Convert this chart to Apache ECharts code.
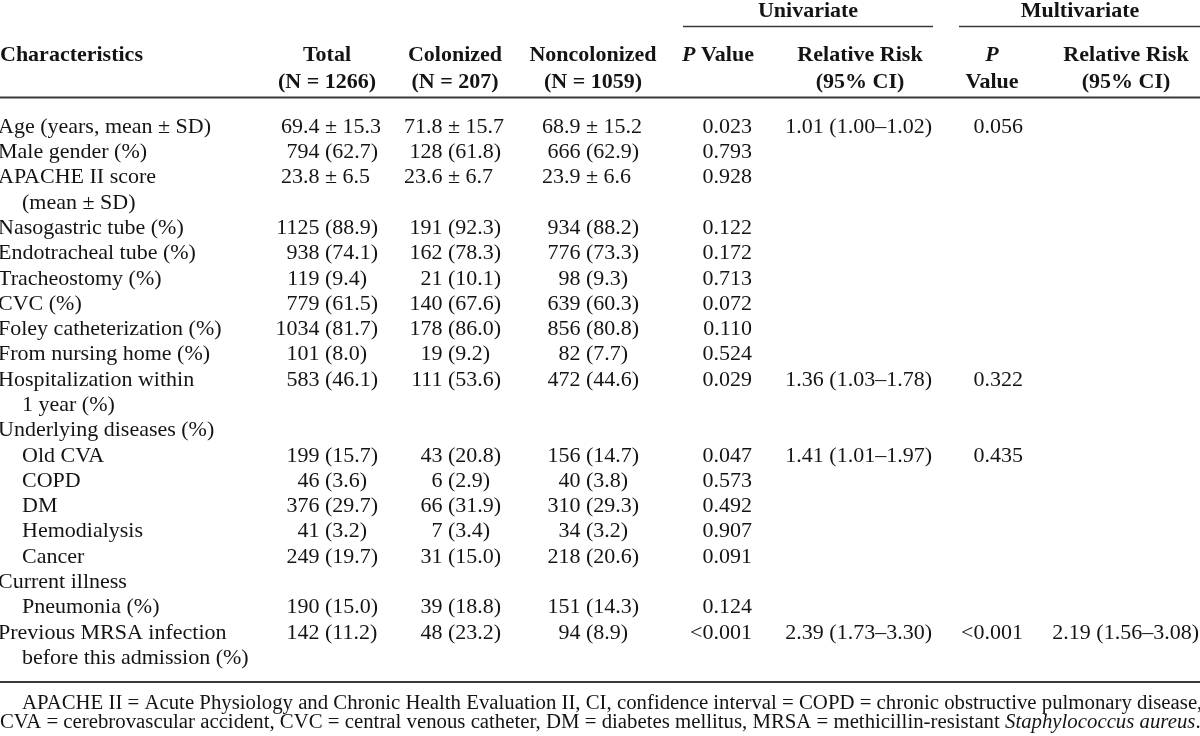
<!DOCTYPE html>
<html>
<head>
<meta charset="utf-8">
<script src="https://cdn.jsdelivr.net/npm/echarts@6/dist/echarts.min.js"></script>
<style>html,body{margin:0;padding:0;background:#fff;}#c{width:1200px;height:736px;}</style>
</head>
<body>
<div id="c"></div>
<script>
// ---------- DATA ----------
const rowLabels = ["Age (years, mean ± SD)", "Male gender (%)", "APACHE II score", "(mean ± SD)",
  "Nasogastric tube (%)", "Endotracheal tube (%)", "Tracheostomy (%)", "CVC (%)",
  "Foley catheterization (%)", "From nursing home (%)", "Hospitalization within", "1 year (%)",
  "Underlying diseases (%)", "Old CVA", "COPD", "DM", "Hemodialysis", "Cancer",
  "Current illness", "Pneumonia (%)", "Previous MRSA infection", "before this admission (%)"];
const rowIndent = [0,0,0,1, 0,0,0,0, 0,0,0,1, 0,1,1,1,1,1, 0,1, 0,1];
const totalCol = ["69.4 ± 15.3","794 (62.7)","23.8 ± 6.5","","1125 (88.9)","938 (74.1)","119 (9.4)","779 (61.5)",
  "1034 (81.7)","101 (8.0)","583 (46.1)","","","199 (15.7)","46 (3.6)","376 (29.7)","41 (3.2)","249 (19.7)",
  "","190 (15.0)","142 (11.2)",""];
const colonizedCol = ["71.8 ± 15.7","128 (61.8)","23.6 ± 6.7","","191 (92.3)","162 (78.3)","21 (10.1)","140 (67.6)",
  "178 (86.0)","19 (9.2)","111 (53.6)","","","43 (20.8)","6 (2.9)","66 (31.9)","7 (3.4)","31 (15.0)",
  "","39 (18.8)","48 (23.2)",""];
const noncolonizedCol = ["68.9 ± 15.2","666 (62.9)","23.9 ± 6.6","","934 (88.2)","776 (73.3)","98 (9.3)","639 (60.3)",
  "856 (80.8)","82 (7.7)","472 (44.6)","","","156 (14.7)","40 (3.8)","310 (29.3)","34 (3.2)","218 (20.6)",
  "","151 (14.3)","94 (8.9)",""];
const uniP = ["0.023","0.793","0.928","","0.122","0.172","0.713","0.072","0.110","0.524","0.029","","",
  "0.047","0.573","0.492","0.907","0.091","","0.124","<0.001",""];
const uniRR = ["1.01 (1.00–1.02)","","","","","","","","","","1.36 (1.03–1.78)","","",
  "1.41 (1.01–1.97)","","","","","","","2.39 (1.73–3.30)",""];
const multiP = ["0.056","","","","","","","","","","0.322","","","0.435","","","","","","","<0.001",""];
const multiRR = ["","","","","","","","","","","","","","","","","","","","","2.19 (1.56–3.08)",""];

const groupHeaders = ["Univariate", "Multivariate"];
const headerLine1 = ["Characteristics", "Total", "Colonized", "Noncolonized", "{i|P} Value", "Relative Risk", "{i|P}", "Relative Risk"];
const headerLine2 = ["", "(N = 1266)", "(N = 207)", "(N = 1059)", "", "(95% CI)", "Value", "(95% CI)"];
const footnote1 = "APACHE II = Acute Physiology and Chronic Health Evaluation II, CI, confidence interval = COPD = chronic obstructive pulmonary disease,";
const footnote2 = "CVA = cerebrovascular accident, CVC = central venous catheter, DM = diabetes mellitus, MRSA = methicillin-resistant {i|Staphylococcus aureus}.";

// ---------- LAYOUT ----------
const FONT = '"Liberation Serif", "Times New Roman", serif';
const FS = 22;
const INK = '#141414';
const RULE = '#3a3a3a';
const columns = [
  { values: totalCol, x: 325, mode: 'split' },
  { values: colonizedCol, x: 448, mode: 'split' },
  { values: noncolonizedCol, x: 586, mode: 'split' },
  { values: uniP, x: 752, mode: 'right' },
  { values: uniRR, x: 932, mode: 'right' },
  { values: multiP, x: 1023, mode: 'right' },
  { values: multiRR, x: 1199, mode: 'right' }
];
const headerX = [0, 327, 455, 593, 718, 860, 992, 1126];
const groupX = [808, 1080];
const groupRules = [[683, 933], [959, 1200]];

function textStyle(extra) {
  return Object.assign({ fontFamily: FONT, fontSize: FS, fill: INK, verticalAlign: 'middle' }, extra);
}

const series = columns.map(col => {
  const texts = [], data = [];
  col.values.forEach((t, i) => { if (t) { texts.push(t); data.push([col.x, i]); } });
  return {
    type: 'custom', coordinateSystem: 'cartesian2d', silent: true, animation: false,
    encode: { x: 0, y: 1 }, data,
    renderItem: (params, api) => {
      const p = api.coord([api.value(0), api.value(1)]);
      const t = texts[params.dataIndex];
      if (col.mode === 'split') {
        let k = t.indexOf(' (');
        if (k < 0) k = t.indexOf(' ± ');
        const left = t.slice(0, k), right = t.slice(k + 1);
        return { type: 'group', children: [
          { type: 'text', x: p[0] - 5.5, y: p[1], style: textStyle({ text: left, align: 'right' }) },
          { type: 'text', x: p[0], y: p[1], style: textStyle({ text: right, align: 'left' }) }
        ]};
      }
      return { type: 'text', x: p[0], y: p[1], style: textStyle({ text: t, align: 'right' }) };
    }
  };
});

const graphics = [];
groupHeaders.forEach((h, k) => {
  graphics.push({ type: 'text', x: groupX[k], y: 11, style: textStyle({ text: h, align: 'center', fontWeight: 'bold' }) });
  graphics.push({ type: 'line', shape: { x1: groupRules[k][0], y1: 26.5, x2: groupRules[k][1], y2: 26.5 }, style: { stroke: RULE, lineWidth: 1.6 } });
});
const italicRich = { i: { fontStyle: 'italic', fontWeight: 'bold', fontFamily: FONT, fontSize: FS, fill: INK } };
headerLine1.forEach((h, k) => {
  graphics.push({ type: 'text', x: headerX[k], y: 55, style: textStyle({ text: h, align: k === 0 ? 'left' : 'center', fontWeight: 'bold', rich: italicRich }) });
  if (headerLine2[k]) graphics.push({ type: 'text', x: headerX[k], y: 82, style: textStyle({ text: headerLine2[k], align: 'center', fontWeight: 'bold' }) });
});
graphics.push({ type: 'line', shape: { x1: 0, y1: 97.5, x2: 1200, y2: 97.5 }, style: { stroke: RULE, lineWidth: 2.2 } });
graphics.push({ type: 'line', shape: { x1: 0, y1: 682, x2: 1200, y2: 682 }, style: { stroke: RULE, lineWidth: 2.2 } });
const FN = 20.8;
const fnRich = { i: { fontStyle: 'italic', fontFamily: FONT, fontSize: FN, fill: INK } };
graphics.push({ type: 'text', x: 22, y: 704, style: { text: footnote1, fontFamily: FONT, fontSize: FN, fill: INK, verticalAlign: 'middle', align: 'left' } });
graphics.push({ type: 'text', x: 0, y: 723, style: { text: footnote2, fontFamily: FONT, fontSize: FN, fill: INK, verticalAlign: 'middle', align: 'left', rich: fnRich } });

const chart = echarts.init(document.getElementById('c'), null, { renderer: 'canvas' });
chart.setOption({
  animation: false,
  backgroundColor: '#fff',
  grid: { left: 0, right: 0, top: 114.35, bottom: 65.3, containLabel: false, outerBoundsMode: 'none' },
  xAxis: { type: 'value', min: 0, max: 1200, show: false },
  yAxis: {
    type: 'category', data: rowLabels, inverse: true,
    axisLine: { show: false }, axisTick: { show: false }, splitLine: { show: false },
    axisLabel: {
      inside: true, margin: -2, interval: 0, align: 'left',
      fontFamily: FONT, fontSize: FS, color: INK,
      formatter: (v, i) => rowIndent[i] ? '{ind|' + v + '}' : '{base|' + v + '}',
      rich: {
        base: { fontFamily: FONT, fontSize: FS, color: INK },
        ind: { fontFamily: FONT, fontSize: FS, color: INK, padding: [0, 0, 0, 24] }
      }
    }
  },
  series,
  graphic: graphics
});
</script>
</body>
</html>
